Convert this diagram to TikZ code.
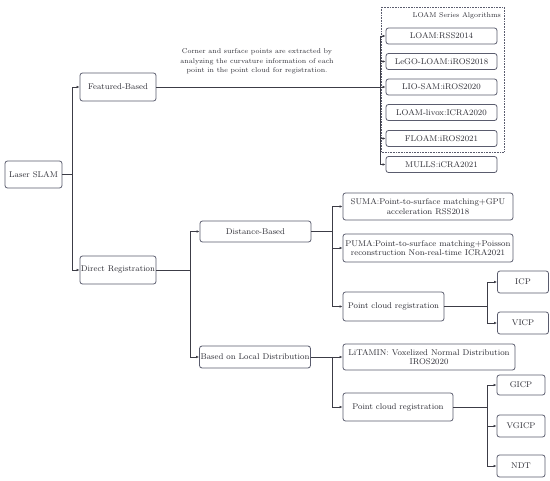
\documentclass[tikz,border=0pt]{standalone}
\usetikzlibrary{arrows.meta}
\definecolor{boxc}{HTML}{5A5C6E}
\definecolor{linec}{HTML}{3C3C46}
\definecolor{textc}{HTML}{2E2E36}
\begin{document}
\begin{tikzpicture}[x=1pt,y=-1pt,
 box/.style={draw=boxc, rounded corners=2.5pt, line width=0.8pt, align=center, inner sep=1pt, font=\fontsize{8.3}{9.5}\selectfont, text=textc},
 conn/.style={draw=linec, line width=0.7pt},
 arr/.style={conn, -{Latex[length=3pt,width=2.6pt]}}]
\useasboundingbox[fill=white] (0,0) rectangle (550,481);
% level 0/1
\node[box, minimum width=57pt, minimum height=27pt] (ls) at (33.5,174.5) {Laser SLAM};
\node[box, minimum width=76pt, minimum height=28pt] (fb) at (118,87) {Featured-Based};
\node[box, minimum width=76pt, minimum height=28pt] (dr) at (118,270) {Direct Registration};
\coordinate (lsb) at (72,174.5);
\draw[conn] (ls.east) -- (lsb);
\draw[arr] (lsb) |- (fb.west);
\draw[arr] (lsb) |- (dr.west);
% LOAM series
\draw[boxc, densely dotted, line width=0.6pt] (381,7) rectangle (504,152);
\node[anchor=east, font=\fontsize{7}{8}\selectfont, text=textc, inner sep=1pt] (ttl) at (502,16) {LOAM Series Algorithms};
\node[box, minimum width=111pt, minimum height=16pt] (l1) at (441.5,36) {LOAM:RSS2014};
\node[box, minimum width=111pt, minimum height=16pt] (l2) at (441.5,61.5) {LeGO-LOAM:iROS2018};
\node[box, minimum width=111pt, minimum height=16pt] (l3) at (441.5,87) {LIO-SAM:iROS2020};
\node[box, minimum width=111pt, minimum height=16pt] (l4) at (441.5,112.5) {LOAM-livox:ICRA2020};
\node[box, minimum width=111pt, minimum height=16pt] (l5) at (441.5,138.5) {FLOAM:iROS2021};
\node[box, minimum width=111pt, minimum height=16pt] (l6) at (441.5,164.5) {MULLS:iCRA2021};
\node[align=center, font=\fontsize{7}{9.6}\selectfont, text=textc, inner sep=0pt] (ann) at (257,61.5) {Corner and surface points are extracted by\\analyzing the curvature information of each\\point in the point cloud for registration.};
\coordinate (lbt) at (380,36);
\coordinate (lbb) at (380,164.5);
\draw[conn] (lbt) -- (lbb);
\draw[arr] (fb.east) -- (l3.west);
\draw[arr] (lbt) -- (l1.west);
\draw[arr] (lbt |- l2.west) -- (l2.west);
\draw[arr] (lbt |- l5.west) -- (l5.west);
\draw[arr] (lbb) -- (l6.west);
% Direct registration
\node[box, minimum width=111pt, minimum height=21pt] (db) at (255.5,231.5) {Distance-Based};
\node[box, minimum width=110pt, minimum height=22pt] (bld) at (255,357) {Based on Local Distribution};
\coordinate (drb) at (190,270);
\draw[conn] (dr.east) -- (drb);
\draw[arr] (drb) |- (db.west);
\draw[arr] (drb) |- (bld.west);
% Distance based
\node[box, minimum width=170pt, minimum height=27pt] (suma) at (428,206.5) {SUMA:Point-to-surface matching+GPU\\acceleration RSS2018};
\node[box, minimum width=170pt, minimum height=28pt] (puma) at (428,248) {PUMA:Point-to-surface matching+Poisson\\reconstruction Non-real-time ICRA2021};
\node[box, minimum width=101pt, minimum height=29pt] (pc1) at (393.5,306.5) {Point cloud registration};
\coordinate (dbb) at (332,231.5);
\draw[conn] (db.east) -- (dbb);
\draw[arr] (dbb) |- (suma.west);
\draw[arr] (dbb |- puma.west) -- (puma.west);
\draw[arr] (dbb) |- (pc1.west);
\node[box, minimum width=51pt, minimum height=22pt] (icp) at (523,282) {ICP};
\node[box, minimum width=51pt, minimum height=22pt] (vicp) at (523,323) {VICP};
\coordinate (pb1) at (487,306.5);
\draw[conn] (pc1.east) -- (pb1);
\draw[arr] (pb1) |- (icp.west);
\draw[arr] (pb1) |- (vicp.west);
% Local distribution
\node[box, minimum width=172pt, minimum height=26pt] (lit) at (429,357) {LiTAMIN: Voxelized Normal Distribution\\IROS2020};
\node[box, minimum width=110pt, minimum height=28pt] (pc2) at (398,407) {Point cloud registration};
\coordinate (bb) at (332,357);
\draw[arr] (bld.east) -- (lit.west);
\draw[arr] (bb) |- (pc2.west);
\node[box, minimum width=48pt, minimum height=20pt] (gicp) at (521,385) {GICP};
\node[box, minimum width=48pt, minimum height=22pt] (vgicp) at (521,426) {VGICP};
\node[box, minimum width=48pt, minimum height=22pt] (ndt) at (521,466) {NDT};
\coordinate (pb2) at (487,407);
\draw[conn] (pc2.east) -- (pb2);
\draw[arr] (pb2) |- (gicp.west);
\draw[arr] (pb2) -- (vgicp.west -| pb2) -- (vgicp.west);
\draw[arr] (pb2) |- (ndt.west);
\end{tikzpicture}
\end{document}
